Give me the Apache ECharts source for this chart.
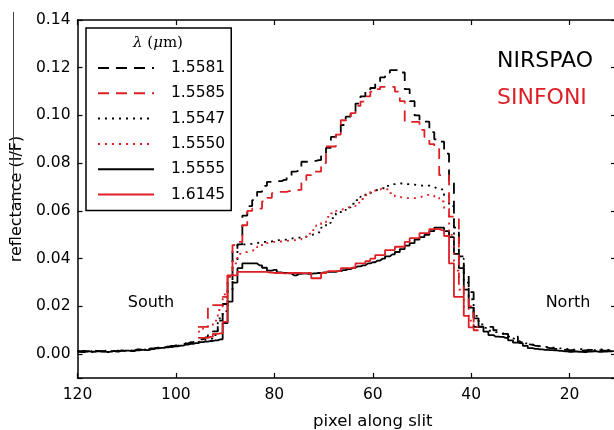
<!DOCTYPE html>
<html><head><meta charset="utf-8">
<script src="https://cdn.jsdelivr.net/npm/echarts@6/dist/echarts.min.js"></script>
<style>html,body{margin:0;padding:0;background:#fff}#c{width:614px;height:430px}</style>
</head><body><div id="c"></div>
<script>
// pixel along slit (x grid)
const pixels = [120,119,118,117,116,115,114,113,112,111,
110,109,108,107,106,105,104,103,102,101,
100,99,98,97,96,95,94,93,92,91,
90,89,88,87,86,85,84,83,82,81,
80,79,78,77,76,75,74,73,72,71,
70,69,68,67,66,65,64,63,62,61,
60,59,58,57,56,55,54,53,52,51,
50,49,48,47,46,45,44,43,42,41,
40,39,38,37,36,35,34,33,32,31,
30,29,28,27,26,25,24,23,22,21,
20,19,18,17,16,15,14,13,12,11];

const seriesNames = ['1.5581','1.5585','1.5547','1.5550','1.5555','1.6145'];
const xTicks = [120,100,80,60,40,20];
const yTicks = ['0.00','0.02','0.04','0.06','0.08','0.10','0.12','0.14'];

// NIRSPAO 1.5581 (black dashed)
const nir1581 = [0.0012,0.0014,0.0011,0.0015,0.0013,0.0012,0.0016,0.0014,0.0013,0.0016,
0.0017,0.0015,0.0019,0.0020,0.0022,0.0024,0.0026,0.0029,0.0031,0.0034,
0.0037,0.0041,0.0045,0.0050,0.0056,0.0062,0.0070,0.0080,0.0095,0.0140,
0.0210,0.0300,0.0440,0.0460,0.0580,0.0620,0.0645,0.0680,0.0705,0.0722,
0.0722,0.0725,0.0730,0.0740,0.0765,0.0770,0.0806,0.0806,0.0810,0.0813,
0.0830,0.0864,0.0910,0.0930,0.0960,0.0995,0.1010,0.1050,0.1080,0.1100,
0.1115,0.1137,0.1160,0.1180,0.1190,0.1190,0.1180,0.1110,0.1060,0.1000,
0.0974,0.0974,0.0930,0.0900,0.0890,0.0840,0.0720,0.0530,0.0410,0.0340,
0.0260,0.0114,0.0114,0.0114,0.0114,0.0100,0.0094,0.0085,0.0073,0.0073,
0.0050,0.0046,0.0040,0.0035,0.0030,0.0027,0.0025,0.0022,0.0020,0.0018,
0.0017,0.0019,0.0015,0.0016,0.0018,0.0014,0.0017,0.0015,0.0016,0.0018];

// SINFONI 1.5585 (red dashed)
const sin1585 = [null,null,null,null,null,null,null,null,null,null,
null,null,null,null,null,null,null,null,null,null,
null,null,null,null,null,0.0114,0.0114,0.0205,0.0205,0.0205,
0.0240,0.0324,0.0457,0.0470,0.0540,0.0600,0.0610,0.0610,0.0640,0.0655,
0.0675,0.0680,0.0680,0.0683,0.0688,0.0688,0.0717,0.0750,0.0765,0.0765,
0.0800,0.0870,0.0870,0.0920,0.0980,0.0980,0.1010,0.1040,0.1058,0.1080,
0.1100,0.1110,0.1120,0.1120,0.1120,0.1100,0.1060,0.0973,0.0973,0.0973,
0.0940,0.0910,0.0880,0.0860,0.0750,0.0750,0.0576,0.0576,0.0300,0.0240,
0.0200,0.0114,null,null,null,null,null,null,null,null,
null,null,null,null,null,null,null,null,null,null,
null,null,null,null,null,null,null,null,null,null];

// NIRSPAO 1.5547 (black dotted)
const nir1547 = [0.0013,0.0011,0.0016,0.0009,0.0014,0.0012,0.0017,0.0010,0.0015,0.0012,
0.0018,0.0014,0.0020,0.0017,0.0023,0.0021,0.0027,0.0025,0.0031,0.0030,
0.0036,0.0038,0.0044,0.0047,0.0050,0.0055,0.0060,0.0065,0.0080,0.0150,
0.0180,0.0270,0.0390,0.0457,0.0460,0.0462,0.0465,0.0468,0.0470,0.0472,
0.0475,0.0478,0.0480,0.0484,0.0486,0.0488,0.0492,0.0498,0.0502,0.0510,
0.0530,0.0550,0.0570,0.0590,0.0603,0.0615,0.0630,0.0645,0.0660,0.0674,
0.0682,0.0690,0.0695,0.0705,0.0712,0.0716,0.0715,0.0712,0.0710,0.0708,
0.0706,0.0706,0.0700,0.0695,0.0690,0.0665,0.0620,0.0500,0.0400,0.0300,
0.0230,0.0160,0.0125,0.0110,0.0098,0.0092,0.0085,0.0078,0.0068,0.0060,
0.0052,0.0045,0.0040,0.0036,0.0033,0.0030,0.0028,0.0026,0.0024,0.0022,
0.0020,0.0018,0.0021,0.0016,0.0019,0.0017,0.0020,0.0015,0.0018,0.0016];

// SINFONI 1.5550 (red dotted)
const sin1550 = [null,null,null,null,null,null,null,null,null,null,
null,null,null,null,null,null,null,null,null,null,
null,null,null,null,null,0.0094,0.0110,0.0120,0.0140,0.0185,
0.0250,0.0330,0.0380,0.0420,0.0428,0.0434,0.0436,0.0450,0.0465,0.0468,
0.0470,0.0472,0.0474,0.0476,0.0478,0.0480,0.0490,0.0505,0.0520,0.0540,
0.0550,0.0575,0.0590,0.0600,0.0608,0.0615,0.0620,0.0635,0.0650,0.0665,
0.0680,0.0690,0.0696,0.0690,0.0675,0.0660,0.0655,0.0654,0.0654,0.0656,
0.0660,0.0667,0.0665,0.0655,0.0640,0.0610,0.0500,0.0350,0.0270,0.0190,
0.0140,0.0120,null,null,null,null,null,null,null,null,
null,null,null,null,null,null,null,null,null,null,
null,null,null,null,null,null,null,null,null,null];

// NIRSPAO 1.5555 (black solid)
const nir1555 = [0.0010,0.0008,0.0012,0.0010,0.0012,0.0011,0.0009,0.0013,0.0011,0.0014,
0.0015,0.0013,0.0016,0.0018,0.0017,0.0021,0.0024,0.0026,0.0028,0.0031,
0.0033,0.0036,0.0040,0.0043,0.0046,0.0050,0.0052,0.0055,0.0058,0.0062,
0.0130,0.0220,0.0300,0.0360,0.0380,0.0380,0.0380,0.0372,0.0362,0.0350,
0.0353,0.0342,0.0340,0.0338,0.0330,0.0336,0.0338,0.0336,0.0338,0.0340,
0.0342,0.0345,0.0345,0.0348,0.0352,0.0356,0.0362,0.0368,0.0372,0.0380,
0.0385,0.0392,0.0400,0.0410,0.0418,0.0428,0.0440,0.0455,0.0465,0.0480,
0.0490,0.0500,0.0515,0.0530,0.0530,0.0515,0.0490,0.0420,0.0360,0.0270,
0.0195,0.0150,0.0115,0.0094,0.0080,0.0073,0.0072,0.0068,0.0058,0.0048,
0.0046,0.0035,0.0025,0.0022,0.0020,0.0018,0.0017,0.0016,0.0014,0.0012,
0.0010,0.0011,0.0010,0.0009,0.0011,0.0012,0.0010,0.0011,0.0012,0.0013];

// SINFONI 1.6145 (red solid)
const sin6145 = [null,null,null,null,null,null,null,null,null,null,
null,null,null,null,null,null,null,null,null,null,
null,null,null,null,null,0.0068,0.0068,0.0072,0.0085,0.0087,
0.0135,0.0330,0.0330,0.0345,0.0345,0.0345,0.0345,0.0345,0.0345,0.0342,
0.0340,0.0340,0.0338,0.0340,0.0340,0.0340,0.0338,0.0340,0.0318,0.0318,
0.0340,0.0348,0.0348,0.0348,0.0360,0.0360,0.0362,0.0380,0.0380,0.0390,
0.0400,0.0415,0.0415,0.0436,0.0436,0.0450,0.0450,0.0470,0.0486,0.0486,
0.0507,0.0507,0.0524,0.0524,0.0520,0.0495,0.0380,0.0240,0.0240,0.0160,
0.0112,0.0100,null,null,null,null,null,null,null,null,
null,null,null,null,null,null,null,null,null,null,
null,null,null,null,null,null,null,null,null,null];

const BLACK = '#000000', RED = '#dd1f26';
const FONT = 'DejaVu Sans';
const DASH = [11, 7], DOT = [2, 5];

function mk(name, arr, color, type, z) {
  return {
    name: name, type: 'line', step: 'middle',
    data: pixels.map((p, i) => [p, arr[i]]),
    showSymbol: false, symbol: 'none', silent: true, z: z,
    lineStyle: { color: color, width: 1.8, type: type },
    itemStyle: { color: color },
    emphasis: { disabled: true }
  };
}

const chart = echarts.init(document.getElementById('c'), null, { renderer: 'canvas' });
const axisLineStyle = { color: '#000', width: 1.5 };
const xBase = { type: 'value', min: 0, max: 120, interval: 20, inverse: true, splitLine: { show: false },
  axisLine: { onZero: false, lineStyle: axisLineStyle }, axisTick: { inside: true, length: 5, lineStyle: { color: '#000', width: 1.2 } } };
const yBase = { type: 'value', min: -0.01, max: 0.14, splitNumber: 7, minInterval: 0.02, maxInterval: 0.02,
  splitLine: { show: false }, axisLine: { show: true, onZero: false, lineStyle: axisLineStyle },
  axisTick: { inside: true, length: 5, lineStyle: { color: '#000', width: 1.2 } } };

chart.setOption({
  animation: false,
  backgroundColor: '#fff',
  grid: { left: 77.5, top: 20, width: 590.5, height: 358, outerBoundsMode: 'none', containLabel: false },
  xAxis: [
    Object.assign({}, xBase, { position: 'bottom',
      axisLabel: { color: '#000', fontSize: 15.5, fontFamily: FONT, margin: 9,
        formatter: v => (xTicks.indexOf(v) >= 0 ? String(v) : '') },
      name: 'pixel along slit', nameLocation: 'middle', nameGap: 35,
      nameTextStyle: { color: '#000', fontSize: 16.5, fontFamily: FONT } }),
    Object.assign({}, xBase, { position: 'top', axisLabel: { show: false } })
  ],
  yAxis: [
    Object.assign({}, yBase, { position: 'left',
      axisLabel: { color: '#000', fontSize: 15.5, fontFamily: FONT, margin: 7,
        formatter: v => { const s = (Math.abs(v) < 1e-9 ? 0 : v).toFixed(2); return yTicks.indexOf(s) >= 0 ? s : ''; } },
      name: 'reflectance (I/F)', nameLocation: 'middle', nameGap: 45,
      nameTextStyle: { color: '#000', fontSize: 16, fontFamily: FONT } }),
    Object.assign({}, yBase, { position: 'right', offset: -52, axisLabel: { show: false } })
  ],
  legend: {
    orient: 'vertical', left: 86, top: 28, padding: [32, 6, 8, 11],
    itemWidth: 56, itemHeight: 14, itemGap: 9.3,
    borderColor: '#000', borderWidth: 1.5, backgroundColor: '#fff', selectedMode: false,
    itemStyle: { opacity: 0, color: 'rgba(0,0,0,0)', borderWidth: 0 },
    textStyle: { color: '#000', fontSize: 15.5, fontFamily: FONT, padding: [0, 0, 0, 12] },
    data: seriesNames
  },
  graphic: [
    { type: 'line', shape: { x1: 13.5, y1: 12, x2: 13.5, y2: 211 }, style: { stroke: '#444', lineWidth: 1 }, z: 10 },
    { type: 'text', x: 158, y: 43, z: 10, style: { text: '{i|λ} ({i|μ}m)', fill: '#000', fontSize: 15, fontFamily: 'DejaVu Serif',
        align: 'center', verticalAlign: 'middle', textAlign: 'center', textVerticalAlign: 'middle',
        rich: { i: { fontStyle: 'italic', fontSize: 15, fontFamily: 'DejaVu Serif' } } } },
    { type: 'text', x: 497, y: 61, z: 10, style: { text: 'NIRSPAO', fill: BLACK, fontSize: 22, fontFamily: FONT, verticalAlign: 'middle', textVerticalAlign: 'middle' } },
    { type: 'text', x: 497, y: 98, z: 10, style: { text: 'SINFONI', fill: RED, fontSize: 22, fontFamily: FONT, verticalAlign: 'middle', textVerticalAlign: 'middle' } },
    { type: 'text', x: 151, y: 303, z: 10, style: { text: 'South', fill: '#000', fontSize: 16, fontFamily: FONT, align: 'center', verticalAlign: 'middle', textAlign: 'center', textVerticalAlign: 'middle' } },
    { type: 'text', x: 568, y: 303, z: 10, style: { text: 'North', fill: '#000', fontSize: 16, fontFamily: FONT, align: 'center', verticalAlign: 'middle', textAlign: 'center', textVerticalAlign: 'middle' } }
  ],
  series: [
    mk(seriesNames[0], nir1581, BLACK, DASH, 2),
    mk(seriesNames[1], sin1585, RED, DASH, 3),
    mk(seriesNames[2], nir1547, BLACK, DOT, 2),
    mk(seriesNames[3], sin1550, RED, DOT, 3),
    mk(seriesNames[4], nir1555, BLACK, 'solid', 2),
    mk(seriesNames[5], sin6145, RED, 'solid', 3)
  ]
});
</script></body></html>
